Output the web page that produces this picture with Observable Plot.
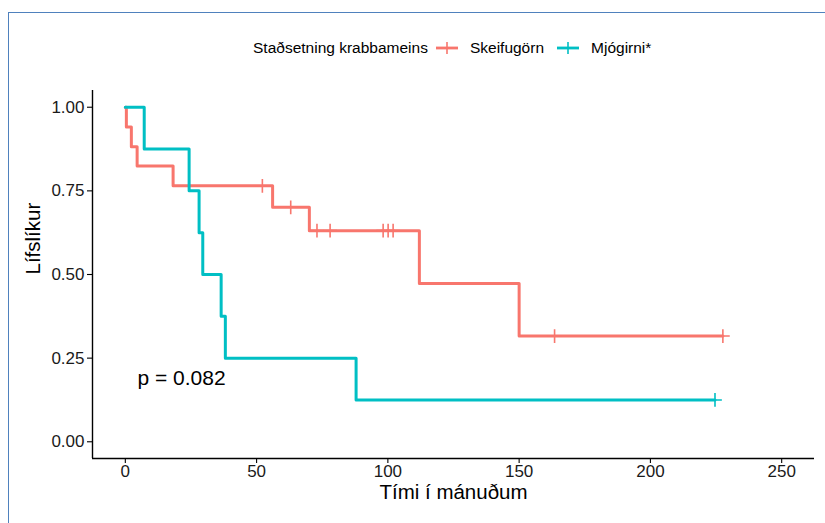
<!DOCTYPE html>
<html>
<head>
<meta charset="utf-8">
<script src="https://cdn.jsdelivr.net/npm/d3@7"></script>
<script src="https://cdn.jsdelivr.net/npm/@observablehq/plot@0.6"></script>
<style>
  html, body { margin: 0; padding: 0; background: #fff; }
  #wrap { position: relative; width: 825px; height: 523px; overflow: hidden; font-family: "Liberation Sans", Arial, sans-serif; }
  #border { position: absolute; left: 8px; top: 12px; width: 900px; height: 600px; border-left: 1px solid #4f81bd; border-top: 1px solid #4f81bd; }
  #legend { position: absolute; left: 253px; top: 38px; height: 20px; display: flex; align-items: center; font-size: 15.5px; color: #000; white-space: nowrap; }
  #legend .key { display: inline-block; margin: 0 11px 0 5px; }
  #legend .lab { margin-right: 7px; }
  #chart { position: absolute; left: 0; top: 0; }
</style>
</head>
<body>
<div id="wrap">
  <div id="chart"></div>
  <div id="border"></div>
  <div id="legend"></div>
</div>
<script>
// ---- data ----
const legendTitle = "Staðsetning krabbameins";
const groups = ["Skeifugörn", "Mjógirni*"];
const colors = ["#F8766D", "#00BFC4"];

// Skeifugörn: step times and survival
const redTime = [0, 0.4, 2.3, 4.5, 18.2, 56.1, 70.1, 112, 150, 227.6];
const redSurv = [1, 0.941, 0.882, 0.824, 0.765, 0.701, 0.631, 0.473, 0.316, 0.316];
const redCensorTime = [52.2, 63, 73, 78, 98.2, 100.1, 102, 163.5, 227.6];
const redCensorSurv = [0.765, 0.701, 0.631, 0.631, 0.631, 0.631, 0.631, 0.316, 0.316];

// Mjógirni*: step times and survival
const blueTime = [0, 7.2, 24.3, 28.1, 29.5, 36.5, 38.1, 87.9, 224.6];
const blueSurv = [1, 0.875, 0.75, 0.625, 0.5, 0.375, 0.25, 0.125, 0.125];
const blueCensorTime = [224.6];
const blueCensorSurv = [0.125];

const xTicks = [0, 50, 100, 150, 200, 250];
const yTicks = [0, 0.25, 0.5, 0.75, 1];
const xLabel = "Tími í mánuðum";
const yLabel = "Lífslíkur";
const pText = "p = 0.082";
const pPos = {x: 4.6, y: 0.19};

// ---- build tables ----
const red = redTime.map((t, i) => ({t, s: redSurv[i]}));
const blue = blueTime.map((t, i) => ({t, s: blueSurv[i]}));
const redC = redCensorTime.map((t, i) => ({t, s: redCensorSurv[i]}));
const blueC = blueCensorTime.map((t, i) => ({t, s: blueCensorSurv[i]}));

const font = '"Liberation Sans", Arial, sans-serif';
const xDom = [-12.5, 262.5];
const yDom = [-0.05, 1.05];

const chart = Plot.plot({
  width: 825,
  height: 523,
  marginLeft: 92,
  marginRight: 11,
  marginTop: 90,
  marginBottom: 65,
  style: {fontFamily: font, fontSize: "17px", color: "#000", background: "transparent"},
  x: {domain: xDom},
  y: {domain: yDom},
  marks: [
    Plot.axisX({ticks: xTicks, tickSize: 5, tickPadding: 1, fontSize: 17, label: null, stroke: "#000", strokeWidth: 1.1, color: "#1a1a1a"}),
    Plot.axisY({ticks: yTicks, tickSize: 5, tickPadding: 3, fontSize: 17, label: null, tickFormat: d3.format(".2f"), stroke: "#000", strokeWidth: 1.1, color: "#1a1a1a"}),
    Plot.ruleX([xDom[0]], {stroke: "#000", strokeWidth: 1.4}),
    Plot.ruleY([yDom[0]], {stroke: "#000", strokeWidth: 1.4}),
    Plot.line(red, {x: "t", y: "s", curve: "step-after", stroke: colors[0], strokeWidth: 3}),
    Plot.line(blue, {x: "t", y: "s", curve: "step-after", stroke: colors[1], strokeWidth: 3}),
    Plot.dot(redC, {x: "t", y: "s", symbol: "plus", r: 4.5, stroke: colors[0], strokeWidth: 1.6}),
    Plot.dot(blueC, {x: "t", y: "s", symbol: "plus", r: 4.5, stroke: colors[1], strokeWidth: 1.6}),
    Plot.text([pText], {x: pPos.x, y: pPos.y, textAnchor: "start", fontSize: 21, fill: "#000"}),
    Plot.text([xLabel], {frameAnchor: "bottom", dy: 40, fontSize: 20.5, fill: "#000"}),
    Plot.text([yLabel], {frameAnchor: "left", dx: -59, rotate: -90, fontSize: 20.5, fill: "#000"})
  ]
});
document.getElementById("chart").appendChild(chart);

// ---- legend ----
const leg = document.getElementById("legend");
const title = document.createElement("span");
title.textContent = legendTitle;
title.style.marginRight = "2px";
leg.appendChild(title);
groups.forEach((g, i) => {
  const k = document.createElementNS("http://www.w3.org/2000/svg", "svg");
  k.setAttribute("width", 24);
  k.setAttribute("height", 16);
  k.setAttribute("class", "key");
  k.innerHTML = `<line x1="1" x2="23" y1="8" y2="8" stroke="${colors[i]}" stroke-width="2.8"/>` +
                `<line x1="12" x2="12" y1="2" y2="14" stroke="${colors[i]}" stroke-width="1.6"/>`;
  leg.appendChild(k);
  const s = document.createElement("span");
  s.className = "lab";
  s.textContent = g;
  leg.appendChild(s);
});
</script>
</body>
</html>
